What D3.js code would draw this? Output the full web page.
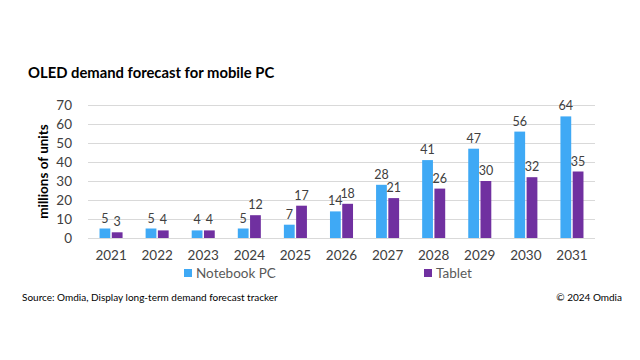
<!DOCTYPE html>
<html>
<head>
<meta charset="utf-8">
<script src="https://cdn.jsdelivr.net/npm/d3@7"></script>
<style>
  body { margin: 0; background: #fff; }
  svg text { font-family: Lato, "Open Sans", sans-serif; }
</style>
</head>
<body>
<div id="chart"></div>
<script>
// data
const years = ["2021", "2022", "2023", "2024", "2025", "2026", "2027", "2028", "2029", "2030", "2031"];
const notebook = [5, 5, 4, 5, 7, 14, 28, 41, 47, 56, 64];
const tablet = [3, 4, 4, 12, 17, 18, 21, 26, 30, 32, 35];
const seriesNames = ["Notebook PC", "Tablet"];
const yTicks = [0, 10, 20, 30, 40, 50, 60, 70];

const colors = ["#3fa9f5", "#7030a0"];
const width = 640, height = 360;
const margin = { top: 105, right: 45, bottom: 122, left: 88 };

const svg = d3.select("#chart").append("svg")
  .attr("width", width)
  .attr("height", height);

const x = d3.scaleBand()
  .domain(years)
  .range([margin.left, width - margin.right])
  .paddingInner(0.5)
  .paddingOuter(0.25);

const xs = d3.scaleBand()
  .domain([0, 1])
  .range([0, x.bandwidth()])
  .paddingInner(0.12);

const y = d3.scaleLinear()
  .domain([0, 70])
  .range([height - margin.bottom, margin.top]);

// title
svg.append("text")
  .attr("x", 28).attr("y", 78)
  .attr("font-size", 14.8).attr("font-weight", "bold")
  .attr("fill", "#000")
  .text("OLED demand forecast for mobile PC");

// gridlines
const yAxis = svg.append("g")
  .attr("transform", `translate(${margin.left},0)`)
  .call(d3.axisLeft(y).tickValues(yTicks).tickSize(-(width - margin.left - margin.right)).tickPadding(16));
yAxis.select(".domain").remove();
yAxis.selectAll(".tick line").attr("stroke", "#d9d9d9");
yAxis.selectAll(".tick text").attr("font-size", 13.5).attr("fill", "#404040");

// y title
svg.append("text")
  .attr("transform", `translate(48,${y(35)}) rotate(-90)`)
  .attr("text-anchor", "middle")
  .attr("font-size", 13.5).attr("font-weight", "bold")
  .attr("fill", "#000")
  .text("millions of units");

// x labels
const xAxis = svg.append("g")
  .attr("transform", `translate(0,${y(0)})`)
  .call(d3.axisBottom(x).tickSize(0).tickPadding(12));
xAxis.select(".domain").remove();
xAxis.selectAll(".tick text").attr("font-size", 13.5).attr("fill", "#404040");

// bars
const series = [notebook, tablet];
series.forEach((vals, si) => {
  const g = svg.append("g");
  g.selectAll("rect")
    .data(vals)
    .join("rect")
    .attr("x", (d, i) => x(years[i]) + xs(si))
    .attr("y", d => y(d))
    .attr("width", xs.bandwidth())
    .attr("height", d => y(0) - y(d))
    .attr("fill", colors[si]);
  g.selectAll("text")
    .data(vals)
    .join("text")
    .attr("x", (d, i) => x(years[i]) + xs(si) + xs.bandwidth() / 2)
    .attr("y", d => y(d) - 6)
    .attr("text-anchor", "middle")
    .attr("font-size", 12.5)
    .attr("fill", "#404040")
    .text(d => d);
});

// legend
const legendX = [184, 424];
seriesNames.forEach((name, i) => {
  svg.append("rect")
    .attr("x", legendX[i]).attr("y", 269)
    .attr("width", 8).attr("height", 8)
    .attr("fill", colors[i]);
  svg.append("text")
    .attr("x", legendX[i] + 12).attr("y", 278)
    .attr("font-size", 13.5).attr("fill", "#595959")
    .text(name);
});

// footer
svg.append("text")
  .attr("x", 22).attr("y", 301)
  .attr("font-size", 10).attr("fill", "#000")
  .text("Source: Omdia, Display long-term demand forecast tracker");
svg.append("text")
  .attr("x", 622).attr("y", 301)
  .attr("text-anchor", "end")
  .attr("font-size", 10).attr("fill", "#000")
  .text("© 2024 Omdia");
</script>
</body>
</html>
